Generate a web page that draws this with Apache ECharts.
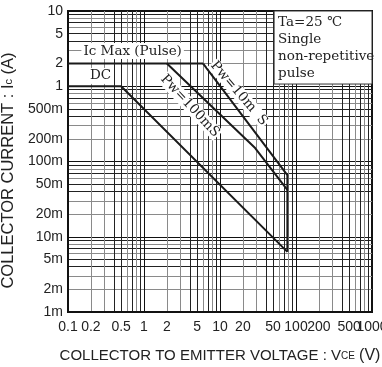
<!DOCTYPE html>
<html>
<head>
<meta charset="utf-8">
<script src="https://cdn.jsdelivr.net/npm/echarts@6/dist/echarts.min.js"></script>
<style>
  html, body { margin: 0; padding: 0; background: #fff; }
  #chart { width: 382px; height: 367px; }
</style>
</head>
<body>
<div id="chart"></div>
<script>
// tick labels
const xLabelValues = [0.1, 0.2, 0.5, 1, 2, 5, 10, 20, 50, 100, 200, 500, 1000];
const xLabelText = ["0.1", "0.2", "0.5", "1", "2", "5", "10", "20", "50", "100", "200", "500", "1000"];
const yLabelValues = [0.001, 0.002, 0.005, 0.01, 0.02, 0.05, 0.1, 0.2, 0.5, 1, 2, 5, 10];
const yLabelText = ["1m", "2m", "5m", "10m", "20m", "50m", "100m", "200m", "500m", "1", "2", "5", "10"];

// grid lines: mantissas inside each decade
const mantissas = [1, 2, 3, 4, 5, 6, 7, 8, 9];
const xDecades = [0.1, 1, 10, 100];
const yDecades = [0.001, 0.01, 0.1, 1];

// SOA curves  [VCE (V), IC (A)]
const icMaxPulse = [[0.1, 2], [6, 2]];
const dcCurve = [[0.1, 1], [0.5, 1], [77, 0.0063]];
const pw100ms = [[2, 2], [29, 0.151], [77, 0.042]];
const pw10ms = [[6, 2], [77, 0.066], [77, 0.0063]];

const legendLines = ["Ta=25 \u2103", "Single", "non-repetitive", "pulse"];

function gridValues(decades, top) {
  const out = [];
  decades.forEach(d => mantissas.forEach(m => out.push(+(d * m).toPrecision(3))));
  out.push(top);
  return out;
}
const xGrid = gridValues(xDecades, 1000);
const yGrid = gridValues(yDecades, 10);

function labelFor(values, texts) {
  return v => {
    let best = 0;
    values.forEach((t, i) => {
      if (Math.abs(Math.log10(t) - Math.log10(v)) < Math.abs(Math.log10(values[best]) - Math.log10(v))) best = i;
    });
    return texts[best];
  };
}

// one colour per line within a decade (cycles every 9 lines)
const gridColors = ["#111", "#8a8a8a", "#8a8a8a", "#222", "#222", "#8a8a8a", "#222", "#8a8a8a", "#222"];

const SANS = "Liberation Sans, Arial, sans-serif";
const SERIF = "DejaVu Serif, serif";

const chart = echarts.init(document.getElementById("chart"));

const lineSeries = (name, data) => ({
  name,
  type: "line",
  data,
  symbol: "none",
  silent: true,
  z: 5,
  lineStyle: { color: "#1a1a1a", width: 2 }
});

// the last x label sits on the chart edge and overlaps "500"; it is drawn separately below
const xAxisLabelValues = xLabelValues.slice(0, -1);

chart.setOption({
  animation: false,
  grid: {
    left: 68, right: 10, top: 11, bottom: 55,
    outerBoundsMode: "none", containLabel: false,
    show: true, borderColor: "#111", borderWidth: 2, backgroundColor: "transparent"
  },
  xAxis: {
    type: "log",
    logBase: 10,
    min: 0.1,
    max: 1000,
    name: "COLLECTOR TO EMITTER VOLTAGE : V{s|CE} {b|(V)}",
    nameLocation: "middle",
    nameGap: 36,
    nameTextStyle: {
      fontFamily: SANS, fontSize: 15, color: "#222",
      rich: {
        s: { fontFamily: SANS, fontSize: 10, color: "#222" },
        b: { fontFamily: SANS, fontSize: 16, color: "#222" }
      }
    },
    axisLine: { show: true, lineStyle: { color: "#111", width: 2 } },
    axisTick: { show: false, customValues: xGrid },
    axisLabel: {
      customValues: xAxisLabelValues,
      formatter: labelFor(xLabelValues, xLabelText),
      hideOverlap: false,
      fontFamily: SANS, fontSize: 14, color: "#222", margin: 8
    },
    splitLine: { show: true, lineStyle: { color: gridColors, width: 1 } },
    minorTick: { show: false },
    minorSplitLine: { show: false }
  },
  yAxis: {
    type: "log",
    logBase: 10,
    min: 0.001,
    max: 10,
    name: "COLLECTOR CURRENT : I{s|c} (A)",
    nameLocation: "middle",
    nameRotate: 90,
    nameGap: 49,
    nameTextStyle: {
      fontFamily: SANS, fontSize: 16.5, color: "#222", padding: [0, 18, 0, 0],
      rich: { s: { fontFamily: SANS, fontSize: 11, color: "#222" } }
    },
    axisLine: { show: true, lineStyle: { color: "#111", width: 2 } },
    axisTick: { show: false, customValues: yGrid },
    axisLabel: {
      customValues: yLabelValues,
      formatter: labelFor(yLabelValues, yLabelText),
      showMinLabel: true, showMaxLabel: true, hideOverlap: false,
      fontFamily: SANS, fontSize: 14, color: "#222", margin: 5
    },
    splitLine: { show: true, lineStyle: { color: gridColors, width: 1 } }
  },
  series: [
    lineSeries("Ic Max (Pulse)", icMaxPulse),
    lineSeries("DC", dcCurve),
    lineSeries("Pw=100mS", pw100ms),
    lineSeries("Pw=10mS", pw10ms)
  ]
});

// annotations anchored to data coordinates
function px(v, i) { return chart.convertToPixel({ gridIndex: 0 }, [v, i]); }

const pIcMax = px(0.15, 2.85);
const pDC = px(0.189, 1.33);
const p10 = px(17.8, 0.8);
const p100 = px(4.03, 0.547);
const pBoxTL = px(51.5, 10);
const pBoxBR = px(1000, 1.07);
const pLast = px(xLabelValues[xLabelValues.length - 1], 0.001);

const noteFont = "13.5px " + SERIF;
const graphics = [
  {
    type: "text", x: pLast[0], y: pLast[1] + 8, z: 10,
    style: { text: xLabelText[xLabelText.length - 1], font: "14px " + SANS, fill: "#222", align: "center", verticalAlign: "top" }
  },
  {
    type: "text", left: pIcMax[0], top: pIcMax[1] - 9, z: 10,
    style: { text: "Ic Max (Pulse)", font: noteFont, fill: "#222", backgroundColor: "#fff", padding: [1, 2] }
  },
  {
    type: "text", left: pDC[0], top: pDC[1] - 9, z: 10,
    style: { text: "DC", font: noteFont, fill: "#222", backgroundColor: "#fff", padding: [1, 1] }
  },
  {
    type: "text", x: p10[0], y: p10[1], rotation: -0.86, z: 10,
    style: { text: "Pw=10m  S", font: noteFont, fill: "#222", align: "center", verticalAlign: "middle", backgroundColor: "#fff", padding: [0, 1] }
  },
  {
    type: "text", x: p100[0], y: p100[1], rotation: -0.82, z: 10,
    style: { text: "Pw=100mS", font: noteFont, fill: "#222", align: "center", verticalAlign: "middle", backgroundColor: "#fff", padding: [0, 1] }
  },
  {
    type: "rect", z: 10,
    shape: { x: pBoxTL[0], y: pBoxTL[1], width: pBoxBR[0] - pBoxTL[0], height: pBoxBR[1] - pBoxTL[1] },
    style: { fill: "#fff", stroke: "#333", lineWidth: 1 }
  }
];
legendLines.forEach((t, i) => {
  graphics.push({
    type: "text", left: pBoxTL[0] + 4, top: pBoxTL[1] + 4 + i * 17, z: 11,
    style: { text: t, font: noteFont, fill: "#222" }
  });
});
chart.setOption({ graphic: graphics });
</script>
</body>
</html>
